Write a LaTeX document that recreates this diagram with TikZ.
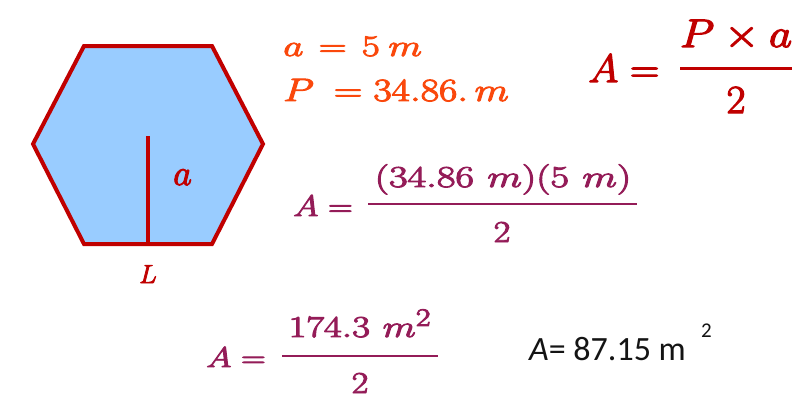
\documentclass[tikz,border=0pt]{standalone}
\usepackage{fontspec}
\newfontfamily\calibrifont{Carlito}
\definecolor{cHexFill}{RGB}{153,204,255}
\definecolor{cDarkRed}{RGB}{192,0,0}
\definecolor{cOrange}{RGB}{250,72,12}
\definecolor{cPlum}{RGB}{148,28,88}
\definecolor{cInk}{RGB}{20,20,20}
\tikzset{
  eqtext/.style={font=\Huge, inner sep=0pt, transform shape,
    execute at begin node={\special{pdf:literal direct 2 Tr 0.75 w 1 j}},
    execute at end node={\special{pdf:literal direct 0 Tr}}},
  hexedge/.style={draw=cDarkRed, line width=4pt, fill=cHexFill, line join=miter},
  apothem/.style={draw=cDarkRed, line width=4pt},
  fracbar/.style={line width=2.6pt},
  plaintext/.style={inner sep=0pt, text=cInk},
}
\begin{document}
\begin{tikzpicture}[x=1pt,y=1pt]
\useasboundingbox (0,0) rectangle (799,-400);
\fill[white] (0,0) rectangle (799,-400);

% hexagon
\coordinate (h1) at (84,-46);
\coordinate (h2) at (212,-46);
\coordinate (h3) at (263,-144);
\coordinate (h4) at (212,-244);
\coordinate (h5) at (84,-244);
\coordinate (h6) at (33,-144);
\draw[hexedge] (h1)--(h2)--(h3)--(h4)--(h5)--(h6)--cycle;
\coordinate (ctr) at (148,-136);
\coordinate (foot) at (148,-244);
\draw[apothem] (ctr) -- (foot);
\node[eqtext, text=cDarkRed, anchor=base west, xscale=1.45, yscale=1.45] (lbla) at (173,-185) {$a$};
\node[eqtext, text=cDarkRed, anchor=base, scale=1.05] (lblL) at (148,-283) {$L$};

% given values
\node[eqtext, text=cOrange, anchor=base west, xscale=1.57, yscale=1.2] (given1) at (283,-56) {$a\mkern2mu=\mkern2mu5\mkern4mu m$};
\node[eqtext, text=cOrange, anchor=base west, xscale=1.6, yscale=1.3] (given2) at (283,-101) {$P\mkern4mu=34.86.\,m$};

% general formula
\node[eqtext, text=cDarkRed, anchor=base west, xscale=1.65, yscale=1.6] (eqA) at (588,-82) {$A=$};
\coordinate (r1) at (680,-68);
\coordinate (r2) at (792,-68);
\draw[fracbar, cDarkRed, line width=3pt] (r1) -- (r2);
\node[eqtext, text=cDarkRed, anchor=base, xscale=1.8, yscale=1.6] (numA) at (736,-47) {$P\times a$};
\node[eqtext, text=cDarkRed, anchor=base, xscale=1.65, yscale=1.6] (denA) at (736,-113) {$2$};

% substitution
\node[eqtext, text=cPlum, anchor=base west, xscale=1.38, yscale=1.2] (eqB) at (293,-216) {$A=$};
\coordinate (m1) at (368,-204);
\coordinate (m2) at (637,-204);
\draw[fracbar, cPlum] (m1) -- (m2);
\node[eqtext, text=cPlum, anchor=base, xscale=1.62, yscale=1.22] (numB) at (503,-187) {$(34.86\mkern6mu m)(5\mkern6mu m)$};
\node[eqtext, text=cPlum, anchor=base, xscale=1.45, yscale=1.22] (denB) at (502,-242) {$2$};

% product
\node[eqtext, text=cPlum, anchor=base west, xscale=1.38, yscale=1.15] (eqC) at (206,-367) {$A=$};
\coordinate (b1) at (282,-356);
\coordinate (b2) at (438,-356);
\draw[fracbar, cPlum] (b1) -- (b2);
\node[eqtext, text=cPlum, anchor=base, xscale=1.55, yscale=1.22] (numC) at (360,-337) {$174.3\mkern6mu m^2$};
\node[eqtext, text=cPlum, anchor=base, xscale=1.45, yscale=1.22] (denC) at (360,-393) {$2$};

% result
\node[plaintext, anchor=base west, font=\calibrifont\fontsize{34}{40}\selectfont] (res) at (529,-360) {\textit{A}= 87.15 m};
\node[plaintext, anchor=base west, font=\calibrifont\fontsize{21}{25}\selectfont] (ressup) at (701,-337) {2};
\end{tikzpicture}
\end{document}
